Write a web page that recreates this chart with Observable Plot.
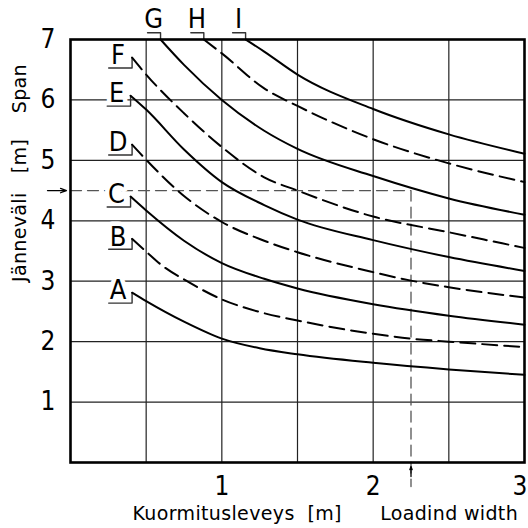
<!DOCTYPE html>
<html>
<head>
<meta charset="utf-8">
<script src="https://cdn.jsdelivr.net/npm/d3@7"></script>
<script src="https://cdn.jsdelivr.net/npm/@observablehq/plot@0.6"></script>
<style>
  html, body { margin: 0; padding: 0; background: #fff; }
  svg { display: block; }
</style>
</head>
<body>
<div id="chart"></div>
<script>
// ---- data ----
const xTicks = [1, 2, 3];
const yTicks = [1, 2, 3, 4, 5, 6, 7];
const xGrid = [0.5, 1, 1.5, 2, 2.5];
const yGrid = [1, 2, 3, 4, 5, 6];
const curveNames = ["A", "B", "C", "D", "E", "F", "G", "H", "I"];
const A = [[0.407,2.81],[0.5,2.67],[0.75,2.33],[1,2.05],[1.25,1.89],[1.5,1.79],[2,1.65],[2.5,1.54],[3,1.45]];
const B = [[0.407,3.70],[0.5,3.49],[0.6,3.27],[0.77,3.0],[1,2.70],[1.25,2.49],[1.5,2.35],[2,2.13],[2.25,2.05],[2.5,2.0],[3,1.91]];
const C = [[0.397,4.40],[0.5,4.17],[0.75,3.67],[1,3.30],[1.28,3.04],[1.5,2.88],[2,2.62],[2.5,2.43],[3,2.28]];
const D = [[0.407,5.26],[0.5,5.01],[0.75,4.41],[1,3.98],[1.28,3.67],[1.5,3.48],[2,3.15],[2.25,3.01],[2.5,2.90],[3,2.73]];
const E = [[0.397,6.07],[0.5,5.84],[0.75,5.18],[1,4.64],[1.28,4.26],[1.5,4.02],[2,3.68],[2.5,3.40],[3,3.17]];
const F = [[0.407,6.70],[0.5,6.42],[0.75,5.78],[1,5.22],[1.28,4.72],[1.5,4.50],[2,4.07],[2.5,3.81],[3,3.55]];
const G = [[0.595,7.0],[0.75,6.58],[1,6.0],[1.28,5.49],[1.5,5.19],[2,4.74],[2.5,4.37],[3,4.10]];
const H = [[0.881,7.0],[1,6.77],[1.28,6.19],[1.5,5.90],[2,5.35],[2.5,4.95],[3,4.64]];
const I = [[1.157,7.0],[1.28,6.80],[1.5,6.42],[2,5.85],[2.5,5.43],[3,5.11]];
const loadWidth = 2.25;   // example loading width
const spanValue = 4.5;    // example span
const xLabel = "Kuormitusleveys\u00A0\u00A0[m]\u00A0\u00A0\u00A0\u00A0\u00A0\u00A0Loadind\u00A0width";
const yLabel = "Jänneväli\u00A0\u00A0\u00A0[m]\u00A0\u00A0\u00A0\u00A0Span";

// ---- build ----
const curvePoints = [A, B, C, D, E, F, G, H, I];
const xDomain = [0, 3], yDomain = [0, 7];
const W = 528, Hh = 528;
const mL = 70, mR = 4, mT = 39, mB = 66;
const pxX = (xDomain[1] - xDomain[0]) / (W - mL - mR);   // data per px
const pxY = (yDomain[1] - yDomain[0]) / (Hh - mT - mB);

const fontCad = "'DejaVu Sans Condensed', 'Liberation Sans Narrow', 'DejaVu Sans', sans-serif";
const fontLabel = "'DejaVu Sans', sans-serif";

const starts = curveNames.map((n, i) => ({name: n, x: curvePoints[i][0][0], y: curvePoints[i][0][1], top: curvePoints[i][0][1] >= yDomain[1]}));
const sideLabels = starts.filter(d => !d.top);
const topLabels = starts.filter(d => d.top);

const leaders = [];
sideLabels.forEach(d => {
  const uy = d.y - 10.4 * pxY;
  leaders.push({k: d.name, x: d.x - 23.4 * pxX, y: uy});
  leaders.push({k: d.name, x: d.x, y: uy});
  leaders.push({k: d.name, x: d.x, y: d.y});
});
topLabels.forEach(d => {
  const uy = d.y + 6.7 * pxY;
  leaders.push({k: d.name, x: d.x - 13 * pxX, y: uy});
  leaders.push({k: d.name, x: d.x, y: uy});
  leaders.push({k: d.name, x: d.x, y: d.y});
});

const curveMarks = curveNames.map((n, i) => Plot.line(curvePoints[i], {
  x: d => d[0], y: d => d[1], curve: "monotone-x",
  stroke: "black", strokeWidth: 2,
  strokeDasharray: i % 2 === 1 ? "15,7" : null
}));

const refH = [{x: 0, y: spanValue}, {x: loadWidth, y: spanValue}, {x: loadWidth, y: -24 * pxY}];

const labelText = (data, o) => [
  Plot.text(data, {...o, fill: "white", stroke: "white", strokeWidth: 9}),
  Plot.text(data, {...o, fill: "black"})
];

const xTickInner = xTicks.filter(d => d < xDomain[1]);
const xTickLast = xTicks.filter(d => d >= xDomain[1]);

const chart = Plot.plot({
  width: W, height: Hh,
  marginLeft: mL, marginRight: mR, marginTop: mT, marginBottom: mB,
  style: {fontFamily: fontCad, fontSize: "26px", color: "black", background: "white", overflow: "visible"},
  x: {domain: xDomain, axis: null},
  y: {domain: yDomain, ticks: yTicks, tickSize: 0, tickPadding: 15, label: null, tickFormat: d => String(d)},
  marks: [
    Plot.ruleX(xGrid, {stroke: "#222", strokeWidth: 1.2}),
    Plot.ruleY(yGrid, {stroke: "#222", strokeWidth: 1.2}),
    Plot.line(refH, {x: "x", y: "y", stroke: "#555", strokeWidth: 1.3, strokeDasharray: "11,6"}),
    ...labelText(sideLabels, {x: "x", y: "y", text: "name", dx: -14, dy: -2, fontSize: 27, fontFamily: fontCad}),
    ...labelText(topLabels, {x: "x", y: "y", text: "name", dx: -7, dy: -20, fontSize: 27, fontFamily: fontCad}),
    Plot.line(leaders, {x: "x", y: "y", z: "k", stroke: "#333", strokeWidth: 1.4}),
    ...curveMarks,
    Plot.frame({stroke: "black", strokeWidth: 2.6}),
    Plot.arrow([{x1: -23 * pxX, y1: spanValue, x2: -4 * pxX, y2: spanValue}], {x1: "x1", y1: "y1", x2: "x2", y2: "y2", stroke: "black", strokeWidth: 1.3, headLength: 8, headAngle: 40}),
    Plot.arrow([{x1: loadWidth, y1: -14 * pxY, x2: loadWidth, y2: -4 * pxY}], {x1: "x1", y1: "y1", x2: "x2", y2: "y2", stroke: "black", strokeWidth: 1.3, headLength: 8, headAngle: 40}),
    // x tick labels (the last one is kept inside the picture)
    Plot.text(xTickInner, {x: d => d, text: d => String(d), frameAnchor: "bottom", lineAnchor: "top", textAnchor: "middle", dy: 14, fontSize: 26, fontFamily: fontCad}),
    Plot.text(xTickLast, {x: d => d, text: d => String(d), frameAnchor: "bottom", lineAnchor: "top", textAnchor: "end", dx: 3, dy: 14, fontSize: 26, fontFamily: fontCad}),
    Plot.text([xLabel], {text: d => d, frameAnchor: "bottom", textAnchor: "start", lineAnchor: "middle", dx: -165, dy: 51, fontSize: 19, fontFamily: fontLabel}),
    Plot.text([yLabel], {text: d => d, frameAnchor: "left", textAnchor: "start", lineAnchor: "middle", rotate: -90, dx: -51, dy: 31, fontSize: 19, fontFamily: fontLabel})
  ]
});
document.getElementById("chart").appendChild(chart);
// slightly wider letter spacing for the axis titles, as in the drawing's lettering
d3.select(chart).selectAll("text").filter(function() {
  const t = this.textContent; return t === xLabel || t === yLabel;
}).style("letter-spacing", "0.35px");
</script>
</body>
</html>
